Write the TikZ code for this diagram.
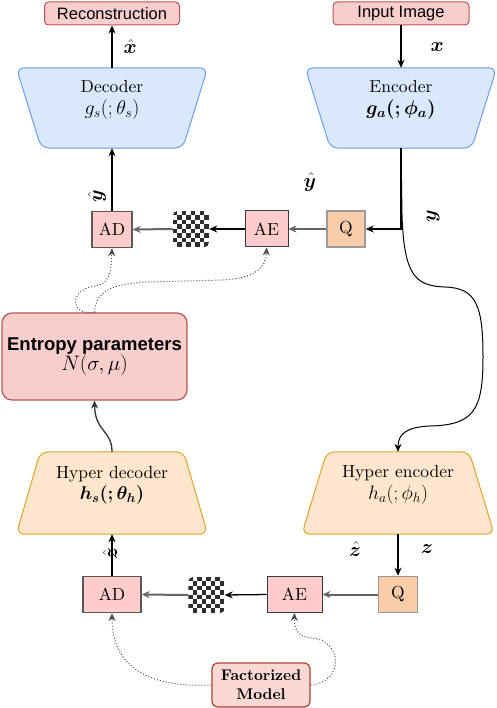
\documentclass[tikz,border=0pt]{standalone}
\usepackage{fix-cm}
\usepackage{amsmath}
\usepackage{bm}
\usepackage{fontspec}
\setmainfont{lmroman10}[Extension=.otf, UprightFont=*-regular, BoldFont=*-bold, ItalicFont=*-italic, BoldItalicFont=*-bolditalic]
\newfontfamily\helv{Liberation Sans}
\newcommand\fsz[1]{\fontsize{#1}{#1}\selectfont}
\usetikzlibrary{arrows.meta,backgrounds,calc}
\definecolor{rfill}{HTML}{F8CECC}
\definecolor{rdraw}{HTML}{B85450}
\definecolor{bfill}{HTML}{DAE8FC}
\definecolor{bdraw}{HTML}{6C9EF0}
\definecolor{ofill}{HTML}{FFE6CC}
\definecolor{odraw}{HTML}{E0A42A}
\definecolor{qfill}{HTML}{F9CDAA}
\definecolor{qdraw}{HTML}{9A9A9A}
\definecolor{aefill}{HTML}{FFCCCC}
\definecolor{aedraw}{HTML}{36393D}
\definecolor{ffill}{HTML}{FAD9D5}
\definecolor{fdraw}{HTML}{AE4132}
\definecolor{chkdark}{HTML}{2E2E2E}
\begin{document}
\begin{tikzpicture}[x=1pt,y=-1pt,
  font=\fontsize{17.5}{20.5}\selectfont,
  arr/.style={-{Stealth[length=8pt,width=7pt]}, line width=1.3pt, draw=black},
  garr/.style={-{Stealth[length=8pt,width=7pt]}, line width=2pt, draw=gray!80!black},
  dots/.style={-{Stealth[length=8pt,width=7pt]}, dotted, line width=1pt, draw=gray!60!black},
  topbox/.style={draw=rdraw, fill=rfill, rounded corners=4pt, line width=1pt, minimum height=23pt, inner sep=0pt, font=\helv\fontsize{16.5}{19}\selectfont},
  trap/.style={draw=none, inner sep=0pt},
  bluetrap/.style={draw=bdraw, fill=bfill, line width=1pt, rounded corners=8pt},
  orangetrap/.style={draw=odraw, fill=ofill, line width=1pt, rounded corners=8pt},
  sq/.style={draw=aedraw, fill=aefill, line width=1pt, minimum height=36pt, inner sep=0pt},
  adbox/.style={sq, draw=gray!70!black, line width=1.4pt},
  qbox/.style={draw=qdraw, fill=qfill, line width=1.5pt, minimum height=36pt, inner sep=0pt},
  chk/.style={draw=none, minimum size=36pt, inner sep=0pt},
  lab/.style={inner sep=0pt, font=\fsz{20}}
]
\useasboundingbox (0,0) rectangle (496,708);

% top boxes
\node[topbox, minimum width=135pt] (recon) at (112,13.5) {Reconstruction};
\node[topbox, minimum width=136pt] (input) at (401,13.5) {Input Image};

% trapezoids
\node[trap, minimum width=191pt, minimum height=80pt,
  label={[align=center,yshift=8pt]center:{Decoder\\[1pt]{\fsz{20}$g_s(;\theta_s)$}}}] (dec) at (112,108) {};
\node[trap, minimum width=191pt, minimum height=80pt,
  label={[align=center,yshift=8pt]center:{Encoder\\[1pt]{\fsz{19.5}$\bm{g_a(;\phi_a)}$}}}] (enc) at (401,108) {};
\node[trap, minimum width=191pt, minimum height=82pt,
  label={[align=center,yshift=8pt]center:{Hyper decoder\\[1pt]{\fsz{18.5}$\bm{h_s(;\theta_h)}$}}}] (hdec) at (112,493) {};
\node[trap, minimum width=192pt, minimum height=82pt,
  label={[align=center,yshift=8pt]center:{Hyper encoder\\[1pt]{\fsz{19.5}$h_a(;\phi_h)$}}}] (henc) at (398,493) {};

\begin{pgfonlayer}{background}
\draw[bluetrap] (dec.north west) -- (dec.north east) -- ([xshift=-25pt]dec.south east) -- ([xshift=25pt]dec.south west) -- cycle;
\draw[bluetrap] (enc.north west) -- (enc.north east) -- ([xshift=-25pt]enc.south east) -- ([xshift=25pt]enc.south west) -- cycle;
\draw[orangetrap] ([xshift=24pt]hdec.north west) -- ([xshift=-24pt]hdec.north east) -- (hdec.south east) -- (hdec.south west) -- cycle;
\draw[orangetrap] ([xshift=25pt]henc.north west) -- ([xshift=-25pt]henc.north east) -- (henc.south east) -- (henc.south west) -- cycle;
\end{pgfonlayer}

% entropy parameters
\node[draw=rdraw, fill=rfill, line width=1.2pt, rounded corners=10pt, minimum width=185pt, minimum height=87pt, align=center] (ent) at (94.5,356.5)
  {{\helv\bfseries\fontsize{18.5}{22}\selectfont Entropy parameters}\\[0pt] {\fsz{21}$N(\sigma,\mu)$}};

% upper row
\node[adbox, minimum width=40pt] (ad1) at (112,229.5) {AD};
\node[chk] (chk1) at (191,229) {};
\node[sq, minimum width=43pt] (ae1) at (266.5,229) {AE};
\node[qbox, minimum width=38pt] (q1) at (346,229) {Q};

% lower row
\node[adbox, minimum width=58pt] (ad2) at (112,594.5) {AD};
\node[chk] (chk2) at (206.5,595) {};
\node[sq, minimum width=55pt] (ae2) at (294.5,594.5) {AE};
\node[qbox, minimum width=39pt] (q2) at (398,594.5) {Q};

% factorized model
\node[draw=fdraw, fill=ffill, line width=1.2pt, rounded corners=6pt, minimum width=98pt, minimum height=44pt, inner sep=0pt, align=center,
  font=\bfseries\fontsize{15.5}{19}\selectfont] (fac) at (261,685) {Factorized\\Model};

% checkerboards
\foreach \c in {chk1,chk2} {
  \begin{scope}
    \clip[rounded corners=5pt] (\c.north west) rectangle (\c.south east);
    \fill[white] (\c.north west) rectangle (\c.south east);
    \begin{scope}[shift={(\c.north west)}]
      \foreach \i in {0,...,7} {
        \foreach \j in {0,...,7} {
          \pgfmathtruncatemacro\k{mod(\i+\j,2)}
          \ifnum\k=0 \fill[chkdark] (\i*4.5,\j*4.5) rectangle ++(4.5,4.5); \fi
        }
      }
    \end{scope}
  \end{scope}
}

% connectors top
\draw[arr] (dec.north) -- (recon.south) node[midway, right=11pt, lab] {$\bm{\hat x}$};
\draw[arr] (input.south) -- (enc.north) node[midway, right=29pt, lab] {$\bm{x}$};
\draw[arr] (enc.south) |- (q1.east);
\draw[arr, line width=1pt] (enc.south) -- (402,215) .. controls (404,275) and (415,286) .. (445,287)
  .. controls (476,288) and (483,305) .. (483,357) .. controls (483,410) and (474,425) .. (430,426)
  .. controls (405,427) and (398,435) .. (henc.north);
\node[lab, rotate=90] (ylab) at (433,216) {$\bm{y}$};
\node[lab] (yhat1) at (310,182) {$\bm{\hat y}$};

\draw[garr] (q1.west) -- (ae1.east);
\draw[arr] (ae1.west) -- (chk1.east);
\draw[garr] (chk1.west) -- (ad1.east);
\draw[arr] (ad1.north) -- (dec.south);
\node[lab, rotate=90] (yhat2) at (97,196) {$\bm{\hat y}$};

\draw[dots] (ent.north) .. controls (70,316) and (68,290) .. (95,286) .. controls (108,284) and (111,276) .. (ad1.south);
\draw[dots] (ent.north) .. controls (96,295) and (105,284) .. (147,282) -- (223,280) .. controls (255,278) and (266,268) .. (ae1.south);

\draw[arr, draw=black!80] (hdec.north) .. controls (112,430) and (95,432) .. (ent.south);

% connectors bottom
\draw[arr] (henc.south) -- (q2.north);
\node[lab] (zlab) at (427,549) {$\bm{z}$};
\node[lab] (zhat1) at (355,549) {$\bm{\hat z}$};
\draw[garr] (q2.west) -- (ae2.east);
\draw[arr] (ae2.west) -- (chk2.east);
\draw[garr] (chk2.west) -- (ad2.east);
\draw[arr] (ad2.north) -- (hdec.south);
\node[lab, rotate=90] (zhat2) at (110,554) {$\bm{\hat z}$};

\draw[dots] (fac.west) .. controls (150,688) and (112,668) .. (ad2.south);
\draw[dots] (fac.east) .. controls (345,682) and (342,640) .. (312,638) .. controls (298,637) and (294,630) .. (ae2.south);
\end{tikzpicture}
\end{document}
